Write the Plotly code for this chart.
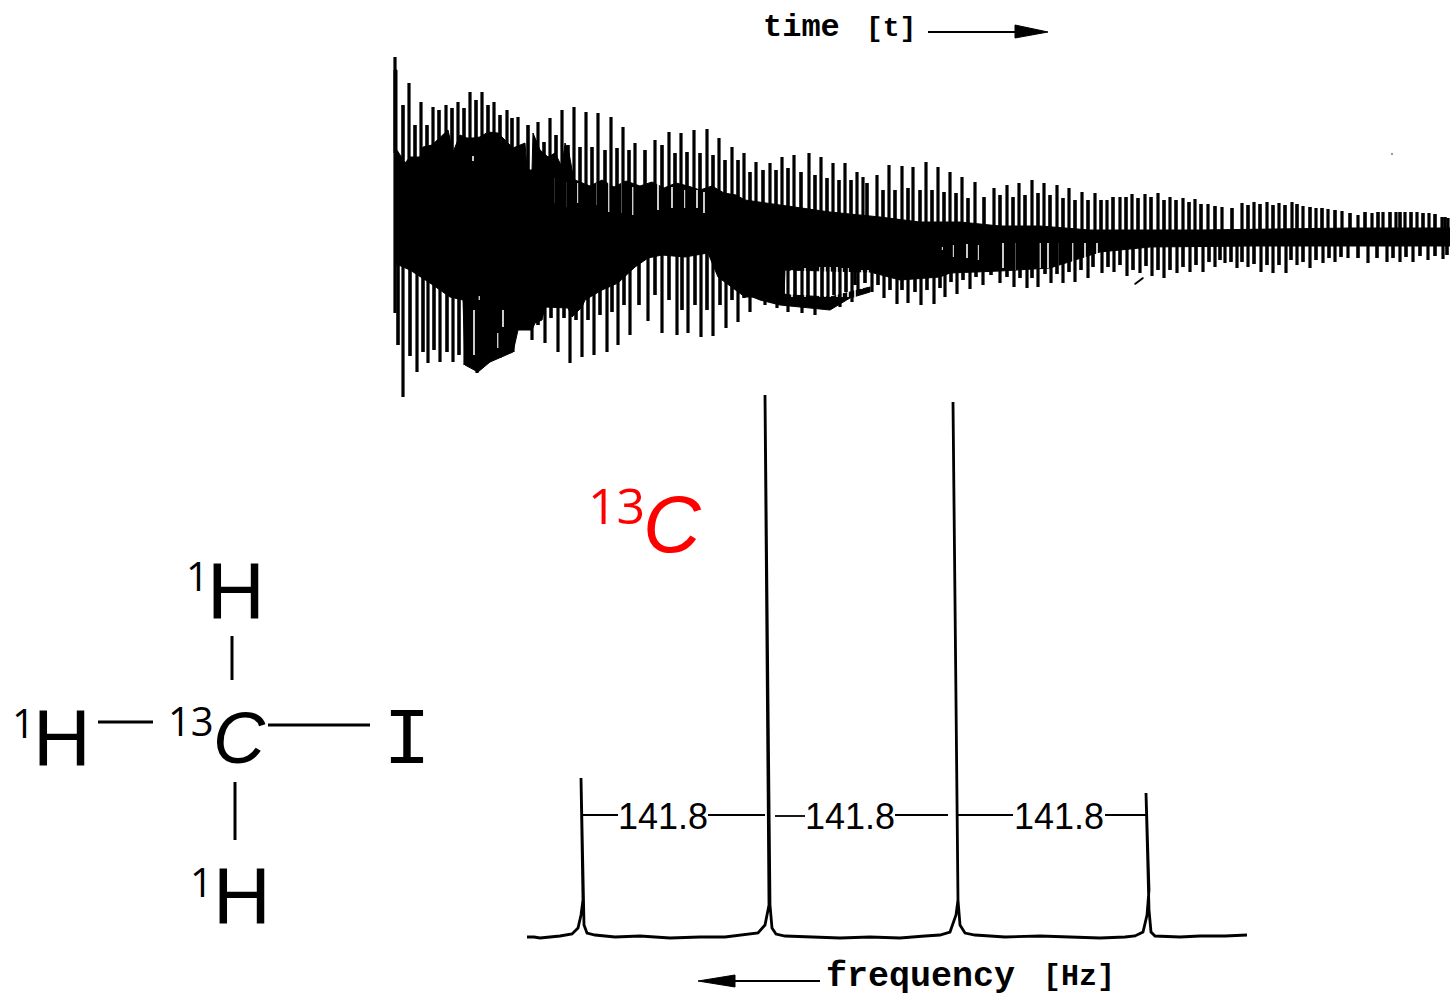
import plotly.graph_objects as go

# --- free induction decay (time axis position, signal position) ---
top_x = [395,409,421,433,446,458,470,482,494,507,518,538,550,562,574,586,598,611,623,635,655,669,681,694,707,719,732,744,756,770,782,794,809,821,833,845,857,863,877,889,902,913,926,938,950,962,975,994,1007,1019,1032,1044,1057,1069,1082,1095,1107,1120,1132,1145,1158,1170,1183,1195,1208,1222,1242,1254,1267,1279,1292,1303,1316,1328,1342,1358,1372,1383,1396,1405,1417,1429,1442,1448]
top_y = [57,83,102,107,105,102,92,92,102,110,117,122,118,110,107,112,113,117,127,143,140,132,133,130,129,138,147,153,162,163,157,155,153,157,163,163,172,177,175,165,166,167,162,167,172,177,182,188,185,183,180,183,185,188,192,193,200,197,194,194,193,197,198,199,204,207,203,202,202,203,202,206,208,209,211,215,213,212,212,212,212,213,217,218]
mid_top_x = [403,415,427,439,452,464,476,488,500,512,528,544,556,568,580,592,605,617,629,645,662,675,687,700,713,725,738,750,763,776,788,801,815,827,839,851,867,883,895,908,920,932,944,956,968,984,1000,1013,1025,1038,1050,1063,1075,1088,1101,1113,1126,1138,1151,1164,1176,1189,1201,1215,1232,1248,1260,1273,1285,1297,1310,1322,1335,1350,1365,1378,1390,1400,1411,1423,1435,1445]
mid_top_y = [105,125,125,110,108,108,100,105,115,118,125,142,135,145,147,147,150,148,150,150,145,153,152,153,155,160,160,172,170,170,168,172,175,178,180,180,183,190,190,188,190,190,192,193,198,197,195,197,195,193,195,198,200,200,200,197,197,198,197,200,200,202,204,206,208,205,204,205,205,204,207,208,210,213,212,212,212,212,212,213,214,217]
bot_x = [395,403,417,428,440,453,465,477,488,500,513,532,545,558,570,582,594,607,618,630,648,662,677,688,701,713,726,738,750,765,777,788,802,815,828,840,852,858,872,884,897,908,921,934,945,957,970,983,1000,1014,1027,1038,1051,1063,1075,1088,1102,1114,1127,1140,1152,1164,1177,1190,1203,1215,1225,1237,1248,1261,1273,1286,1297,1310,1323,1335,1348,1368,1387,1400,1413,1428,1443]
bot_y = [313,397,372,363,362,362,365,373,360,358,352,340,343,352,363,357,355,352,345,335,321,333,335,333,337,336,328,322,312,305,308,312,313,315,309,307,302,295,292,298,304,303,305,304,297,294,289,285,283,287,288,287,283,283,282,278,273,272,276,273,276,278,273,272,272,267,263,268,267,272,273,273,265,268,263,262,258,263,262,262,262,260,259]
mid_bot_x = [398,410,423,434,447,459,471,482,494,506,522,538,551,564,576,588,600,612,624,639,655,669,682,695,707,720,732,744,757,783,795,808,822,834,846,855,865,878,890,902,915,927,940,951,963,976,991,1007,1020,1032,1045,1057,1069,1081,1093,1108,1120,1133,1146,1158,1170,1183,1196,1209,1220,1231,1242,1254,1267,1279,1291,1303,1316,1329,1341,1358,1377,1393,1406,1420,1435,1447]
mid_bot_y = [345,356,352,350,352,355,357,358,340,335,320,325,318,318,320,320,315,312,305,305,295,300,310,305,310,305,300,298,298,300,300,300,300,295,292,285,283,285,290,290,292,290,288,282,280,277,275,277,278,278,274,274,272,270,267,267,265,270,266,270,270,267,265,262,260,262,262,264,265,265,260,262,260,258,257,258,258,258,257,256,256,255]
core_top_x = [394,394,397,397,405,410,420,423,432,440,448,453,460,467,473,480,488,498,505,513,525,527,532,533,540,548,555,562,565,569,573,575,590,602,614,626,640,652,664,676,688,700,712,724,736,745,780,830,880,920,960,1000,1040,1090,1200,1350,1450]
core_top_y = [153,70,70,150,163,157,157,147,145,137,130,152,135,138,138,137,132,133,140,148,143,170,170,133,150,157,153,167,143,153,175,180,186,180,187,181,186,182,188,183,186,190,186,193,195,200,205,212,217,222,222,226,226,230,230,228,228]
core_bot_x = [1450,1350,1250,1150,1100,1050,1000,950,940,900,870,785,784,745,718,708,685,662,648,635,618,602,585,582,572,568,545,542,535,532,518,513,500,490,478,465,463,450,430,410,394]
core_bot_y = [246,246,246,247,252,268,271,273,277,280,272,270,297,297,277,253,257,255,258,267,283,290,300,307,317,308,307,320,323,330,330,352,358,362,372,365,300,297,283,270,263]
lump_x = [740,760,780,800,830,850,870,870,830,790,760,740]
lump_y = [292,300,305,307,310,298,292,287,297,295,290,285]
slit_up_x = [555,567,578,597,609,622,633,645,658,672,685,697,704,473]
slit_up_top = [178,182,183,183,183,183,187,183,183,187,190,190,192,156]
slit_up_bot = [203,207,203,205,212,213,215,215,210,208,208,208,213,161]
slit_low_x = [474,482,498,503,479,792,805,815,820,825,830,837,842,848,855,862,868,942,953,967,978,991,1003,1015,1027,1040,1048,1058,1073,1085,1097]
slit_low_top = [310,323,333,310,296,270,268,267,267,267,267,267,268,268,268,270,270,247,245,244,245,245,243,243,243,243,243,243,243,243,243]
slit_low_bot = [355,347,348,327,300,297,297,297,297,297,297,297,297,297,297,289,287,250,257,258,260,260,268,270,268,268,268,270,268,268,266]
FID_CENTRE = 235
specks_x = [1392, None, 1135, 1143]
specks_y = [154, None, 284, 278]

# --- 13C spectrum ---
spec_x = [527,534,540,551,560,572,578,581,583,581,583,584,587,595,615,640,670,700,725,745,758,765,769,765,770,772,776,785,810,840,870,900,925,940,950,956,958,953,958,960,965,975,1005,1040,1070,1100,1125,1135,1143,1147,1149,1146,1149,1151,1155,1180,1200,1225,1247]
spec_y = [937,937,938,937,936,934,928,915,900,778,900,925,933,935,937,936,938,937,937,935,933,925,905,395,905,928,934,936,937,938,937,938,936,935,932,915,900,402,900,925,933,935,937,936,937,938,937,936,932,915,890,793,910,932,936,937,936,936,935]
dim_start = [581,708,775,895,958,1105]
dim_end = [618,765,805,948,1013,1146]
dim_y = [815,815,816,815,815,815]
spacing_labels = ["141.8","141.8","141.8"]
spacing_x = [663,850,1059]
spacing_y = [816,816,816]

# --- molecule ---
bond_x0 = [232,98,268,235]
bond_x1 = [232,153,370,235]
bond_y0 = [636,722,725,782]
bond_y1 = [680,722,725,840]
atom_text = ["H","H","H","C","I"]
atom_x = [236,62,242,239,407]
atom_y = [590,737,895,738,741]
iso_text = ["1","1","1","13"]
iso_x = [197,23,201,191]
iso_y = [575,722,881,720]


def seg(xs, y0s, y1s):
    ox, oy = [], []
    for x, a, b in zip(xs, y0s, y1s):
        ox += [x, x, None]
        oy += [a, b, None]
    return ox, oy


fig = go.Figure()
black = "#000000"
fig.add_trace(go.Scatter(x=core_top_x + core_bot_x, y=core_top_y + core_bot_y, fill="toself", fillcolor=black, mode="lines", line=dict(color=black, width=1)))
fig.add_trace(go.Scatter(x=lump_x, y=lump_y, fill="toself", fillcolor=black, mode="lines", line=dict(color=black, width=1)))
sx, sy = seg(slit_up_x, slit_up_top, slit_up_bot)
fig.add_trace(go.Scatter(x=sx, y=sy, mode="lines", line=dict(color="#ffffff", width=1.6)))
sx, sy = seg(slit_low_x, slit_low_top, slit_low_bot)
fig.add_trace(go.Scatter(x=sx, y=sy, mode="lines", line=dict(color="#ffffff", width=1.6)))
for xs, ys, w in [(top_x, top_y, 3.2), (mid_top_x, mid_top_y, 3.6), (bot_x, bot_y, 3.2), (mid_bot_x, mid_bot_y, 3.6)]:
    sx, sy = seg(xs, [FID_CENTRE] * len(xs), ys)
    fig.add_trace(go.Scatter(x=sx, y=sy, mode="lines", line=dict(color=black, width=w)))
fig.add_trace(go.Scatter(x=specks_x, y=specks_y, mode="lines+markers", marker=dict(size=1.5, color=black), line=dict(color=black, width=2)))
fig.add_trace(go.Scatter(x=spec_x, y=spec_y, mode="lines", line=dict(color=black, width=2.8)))
dx, dy = [], []
for a, b, y in zip(dim_start, dim_end, dim_y):
    dx += [a, b, None]
    dy += [y, y, None]
fig.add_trace(go.Scatter(x=dx, y=dy, mode="lines", line=dict(color=black, width=1.8)))
bx, by = [], []
for x0, x1, y0, y1 in zip(bond_x0, bond_x1, bond_y0, bond_y1):
    bx += [x0, x1, None]
    by += [y0, y1, None]
fig.add_trace(go.Scatter(x=bx, y=by, mode="lines", line=dict(color=black, width=3)))
# axis arrows
fig.add_trace(go.Scatter(x=[928, 1018, None, 820, 730], y=[32, 32, None, 981, 981], mode="lines", line=dict(color=black, width=2)))
fig.add_trace(go.Scatter(x=[1015, 1048, 1015, 1015, None, 735, 698, 735, 735], y=[25, 32, 38, 25, None, 975, 981, 987, 975], mode="lines", fill="toself", fillcolor=black, line=dict(color=black, width=1)))

scan = "Liberation Mono"
hand = "Liberation Sans"
ann = []
for t, x, y in zip(spacing_labels, spacing_x, spacing_y):
    ann.append(dict(x=x, y=y, text=t, font=dict(family=hand, size=36, color=black)))
ann.append(dict(x=801, y=27, text="time", font=dict(family=scan, size=32, color=black, weight=700)))
ann.append(dict(x=891, y=28, text="[t]", font=dict(family=scan, size=28, color=black, weight=700)))
ann.append(dict(x=920, y=977, text="frequency", font=dict(family=scan, size=35, color=black, weight=700)))
ann.append(dict(x=1079, y=977, text="[Hz]", font=dict(family=scan, size=30, color=black, weight=700)))
for t, x, y in zip(atom_text, atom_x, atom_y):
    size = 80
    if t == "C":
        t = "<i>C</i>"
        size = 72
    fam = "Liberation Mono" if t == "I" else hand
    ann.append(dict(x=x, y=y, text=t, font=dict(family=fam, size=size, color=black)))
for t, x, y in zip(iso_text, iso_x, iso_y):
    ann.append(dict(x=x, y=y, text=t, font=dict(family="Open Sans", size=40, color=black)))
ann.append(dict(x=616, y=505, text="13", font=dict(family="Open Sans", size=50, color="#ff0000")))
ann.append(dict(x=672, y=524, text="<i>C</i>", font=dict(family=hand, size=80, color="#ff0000")))
for a in ann:
    a.update(xref="x", yref="y", showarrow=False, xanchor="center", yanchor="middle")

fig.update_layout(width=1450, height=999, margin=dict(l=0, r=0, t=0, b=0), showlegend=False,
                  paper_bgcolor="#ffffff", plot_bgcolor="#ffffff", annotations=ann,
                  xaxis=dict(range=[0, 1450], visible=False, fixedrange=True),
                  yaxis=dict(range=[999, 0], visible=False, fixedrange=True))
fig.write_html("out.html", config=dict(displayModeBar=False),
               post_script="document.body.style.margin='0';document.body.style.overflow='hidden';")
